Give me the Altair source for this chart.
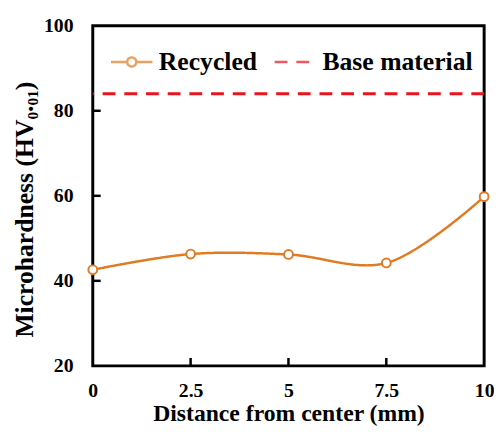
import altair as alt
import pandas as pd

distance = [0, 2.5, 5, 7.5, 10]
recycled = [42.6, 46.3, 46.2, 44.2, 59.8]
base_material = 84
x_ticks = [0, 2.5, 5, 7.5, 10]
y_ticks = [20, 40, 60, 80, 100]
series_names = ["Recycled", "Base material"]

FONT = "Liberation Serif"
ORANGE = "#E07B24"
RED = "#E8141E"

df = pd.DataFrame({"x": distance, "y": recycled, "series": "Recycled"})
base_df = pd.DataFrame({"y": [base_material], "series": ["Base material"]})
xt = pd.DataFrame({"x": x_ticks[1:-1]})
yt = pd.DataFrame({"y": y_ticks[1:-1]})

W, H = 397, 345

color_scale = alt.Scale(domain=series_names, range=[ORANGE, RED])
dash_scale = alt.Scale(domain=series_names, range=[[1, 0], [13, 9]])
path_sym = "M-1,0L-0.22,0M0.22,0L1,0M0.22,0A0.22,0.22,0,1,1,-0.22,0A0.22,0.22,0,1,1,0.22,0"
shape_scale = alt.Scale(domain=series_names, range=[path_sym, "stroke"])

legend = alt.Legend(title=None, orient="none", legendX=17, legendY=14, direction="horizontal")

xscale = alt.Scale(domain=[0, 10], nice=False, zero=False)
yscale = alt.Scale(domain=[20, 100], nice=False, zero=False)

xaxis = alt.Axis(values=x_ticks, title="Distance from center (mm)",
                 labelExpr="datum.value == 2.5 ? '2.5' : datum.value == 7.5 ? '7.5' : format(datum.value, 'd')")
yaxis = alt.Axis(values=y_ticks, title="Microhardness (HV₀.₀₁)")

line = alt.Chart(df).mark_line(interpolate="catmull-rom", strokeWidth=2.5).encode(
    x=alt.X("x:Q", scale=xscale, axis=xaxis),
    y=alt.Y("y:Q", scale=yscale, axis=yaxis),
    color=alt.Color("series:N", scale=color_scale, legend=legend),
    strokeDash=alt.StrokeDash("series:N", scale=dash_scale, legend=legend),
)

points = alt.Chart(df).mark_point(
    shape="circle", filled=True, fill="white", size=80, strokeWidth=2, stroke=ORANGE, opacity=1
).encode(
    x=alt.X("x:Q", scale=xscale, axis=xaxis),
    y=alt.Y("y:Q", scale=yscale, axis=yaxis),
)

base = alt.Chart(base_df).mark_rule(strokeWidth=3).encode(
    y=alt.Y("y:Q", scale=yscale, axis=yaxis),
    color=alt.Color("series:N", scale=color_scale, legend=legend),
    strokeDash=alt.StrokeDash("series:N", scale=dash_scale, legend=legend),
)

legend_layer = alt.Chart(base_df).mark_point(filled=False).encode(
    y=alt.Y("y:Q", scale=yscale, axis=yaxis),
    color=alt.Color("series:N", scale=color_scale, legend=legend),
    strokeDash=alt.StrokeDash("series:N", scale=dash_scale, legend=legend),
    shape=alt.Shape("series:N", scale=shape_scale, legend=legend),
).transform_filter("false")

xtick = alt.Chart(xt).mark_rule(color="black", strokeWidth=2.5).encode(
    x=alt.X("x:Q", scale=xscale, axis=xaxis), y=alt.value(H), y2=alt.value(H - 8))
ytick = alt.Chart(yt).mark_rule(color="black", strokeWidth=2.5).encode(
    y=alt.Y("y:Q", scale=yscale, axis=yaxis), x=alt.value(0), x2=alt.value(8))

chart = alt.layer(base, line, points, legend_layer, xtick, ytick).properties(
    width=W, height=H,
    background="white",
    autosize=alt.AutoSizeParams(type="none"),
    padding={"left": 86, "top": 15, "right": 10, "bottom": 58},
).configure_view(
    stroke="black", strokeWidth=3,
).configure_axis(
    labelFont=FONT, labelFontSize=20, labelFontWeight="bold", labelColor="black",
    titleFont=FONT, titleFontWeight="bold", titleColor="black",
    grid=False, domain=False, ticks=False, tickSize=0, labelFlush=False,
).configure_axisX(
    labelPadding=15, titlePadding=1, titleFontSize=24,
).configure_axisY(
    labelPadding=20, titlePadding=4, titleFontSize=26, titleY=186, titleX=-56,
).configure_legend(
    labelFont=FONT, labelFontSize=26, labelFontWeight="bold", labelColor="black",
    symbolSize=1764, symbolStrokeWidth=2.5, symbolFillColor="white",
    columnPadding=12, labelOffset=5, padding=0,
)

chart.save("out.html", embed_options={"renderer": "svg", "actions": False})
